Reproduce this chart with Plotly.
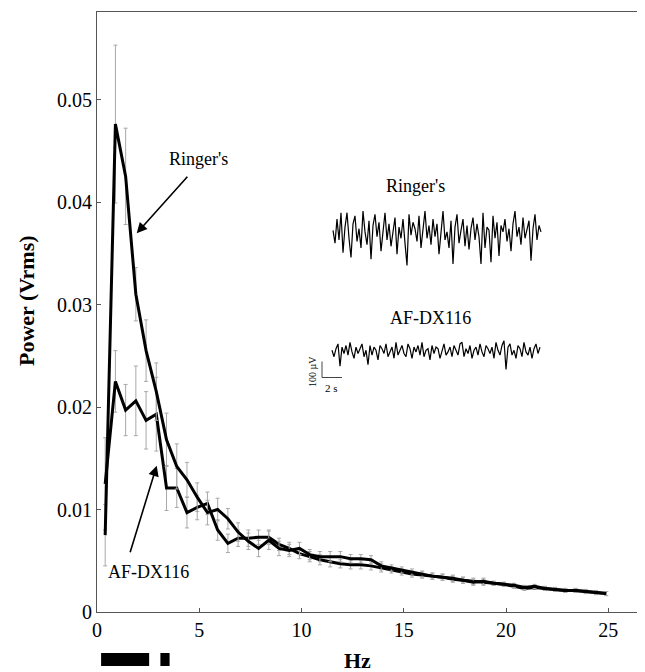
import plotly.graph_objects as go

# ---------------- data ----------------
freq_hz = [0.4, 0.9, 1.4, 1.9, 2.4, 2.9, 3.4, 3.9, 4.4, 4.9,
           5.4, 5.9, 6.4, 6.9, 7.4, 7.9, 8.4, 8.9, 9.4, 9.9,
           10.4, 10.9, 11.4, 11.9, 12.4, 12.9, 13.4, 13.9, 14.4, 14.9,
           15.4, 15.9, 16.4, 16.9, 17.4, 17.9, 18.4, 18.9, 19.4, 19.9,
           20.4, 20.9, 21.4, 21.9, 22.4, 22.9, 23.4, 23.9, 24.4, 24.9]

ringers_power = [0.0075, 0.0476, 0.0425, 0.0310, 0.0255, 0.0215, 0.0168, 0.0142, 0.0129, 0.0112,
                 0.0097, 0.0100, 0.0091, 0.0078, 0.0069, 0.0062, 0.0070, 0.0062, 0.0060, 0.0062,
                 0.0056, 0.0054, 0.0054, 0.0054, 0.0052, 0.0052, 0.0051, 0.0045, 0.0043, 0.0041,
                 0.0039, 0.0037, 0.0035, 0.0034, 0.0033, 0.0031, 0.0029, 0.0030, 0.0028, 0.0027,
                 0.0026, 0.0024, 0.0025, 0.0023, 0.0022, 0.0021, 0.0021, 0.0020, 0.0019, 0.0018]
ringers_err = [0.0030, 0.0077, 0.0047, 0.0026, 0.0030, 0.0028, 0.0026, 0.0022, 0.0017, 0.0014,
               0.0012, 0.0011, 0.0010, 0.0009, 0.0008, 0.0008, 0.0009, 0.0007, 0.0006, 0.0006,
               0.0005, 0.0005, 0.0005, 0.0005, 0.0004, 0.0004, 0.0004, 0.0004, 0.0003, 0.0003,
               0.0003, 0.0003, 0.0003, 0.0003, 0.0003, 0.0003, 0.0003, 0.0003, 0.0002, 0.0002,
               0.0002, 0.0002, 0.0002, 0.0002, 0.0002, 0.0002, 0.0002, 0.0002, 0.0002, 0.0002]

afdx_power = [0.0125, 0.0225, 0.0197, 0.0206, 0.0187, 0.0193, 0.0121, 0.0121, 0.0097, 0.0102,
              0.0106, 0.0080, 0.0067, 0.0072, 0.0072, 0.0073, 0.0073, 0.0066, 0.0062, 0.0057,
              0.0054, 0.0051, 0.0049, 0.0047, 0.0046, 0.0046, 0.0045, 0.0043, 0.0041, 0.0039,
              0.0037, 0.0036, 0.0035, 0.0034, 0.0032, 0.0031, 0.0030, 0.0029, 0.0028, 0.0027,
              0.0025, 0.0023, 0.0024, 0.0023, 0.0022, 0.0021, 0.0021, 0.0020, 0.0019, 0.0018]
afdx_err = [0.0045, 0.0030, 0.0025, 0.0034, 0.0028, 0.0036, 0.0022, 0.0019, 0.0015, 0.0012,
            0.0011, 0.0010, 0.0009, 0.0008, 0.0008, 0.0007, 0.0007, 0.0006, 0.0006, 0.0005,
            0.0005, 0.0005, 0.0005, 0.0004, 0.0004, 0.0004, 0.0004, 0.0004, 0.0003, 0.0003,
            0.0003, 0.0003, 0.0003, 0.0003, 0.0003, 0.0003, 0.0003, 0.0003, 0.0002, 0.0002,
            0.0002, 0.0002, 0.0002, 0.0002, 0.0002, 0.0002, 0.0002, 0.0002, 0.0002, 0.0002]

# inset EEG samples (microvolts), sampled every 0.2 s
eeg_ringers_uv = [20, -60, 90, -40, 130, -120, 40, 130, -30, -150,
                  60, 110, -50, 30, -90, 140, 10, -70, 80, -160,
                  50, 120, -20, 70, -110, 30, 130, -40, 60, -80,
                  20, 100, -130, 40, -30, 90, -60, -200, 120, -10,
                  70, 30, -50, 110, -90, 20, 140, -30, 50, -70,
                  90, -20, 60, -130, 30, 140, -40, 10, -90, 80,
                  -190, 40, 120, -60, 20, 90, -80, 50, -100, 30,
                  100, -40, 60, -20, -190, 130, -90, 40, 20, -180,
                  110, -30, 70, -140, 50, 10, 90, -50, 30, -110,
                  60, 140, -20, 40, -70, 100, -30, 20, 80, -170,
                  30, 120, -40, 50, 10]
eeg_afdx_uv = [10, -30, 20, 50, -90, 30, -10, 40, -20, 60,
               0, -40, 30, -10, 20, 50, -30, 10, -80, 40,
               -20, 30, 10, -50, 40, 20, -10, 50, -30, 0,
               30, -40, 60, -20, 10, 40, -10, -30, 50, 20,
               -40, 30, 0, 40, -20, 60, -30, 10, 20, -50,
               40, -10, 30, 20, -40, 10, 50, -20, 0, 30,
               -30, 40, 10, -20, 50, 60, -30, 20, -10, 40,
               -40, 10, 30, -20, 50, 0, -30, 40, 20, -10,
               30, -40, 60, 10, -20, 40, 70, -110, 30, 50,
               -20, 10, -40, 40, 20, -30, 60, 0, -20, 30,
               -40, 20, 50, -10, 30]

x_ticks = [0, 5, 10, 15, 20, 25]
y_ticks = [0, 0.01, 0.02, 0.03, 0.04, 0.05]
y_tick_text = ["0", "0.01", "0.02", "0.03", "0.04", "0.05"]

# ---------------- layout constants ----------------
# page-body margin of 8 px is compensated so the plot area sits at
# page x 97..640, page y 12..612
OFF = 8
W, H = 645 - OFF, 672 - OFF
ML, MR, MT, MB = 97 - OFF, 5, 12 - OFF, 60
PL, PR, PT, PB = 97, 640, 12, 612  # plot area in page pixels
PW, PH = PR - PL, PB - PT
SERIF = "Liberation Serif, Times New Roman, serif"
PX_PER_HZ = 20.45
PX_PER_UNIT = 10250.0


def px_x(px):
    return (px - PL) / PW


def px_y(py):
    return (PB - py) / PH


RINGER_OFFSET_UV = 900
AFDX_OFFSET_UV = 160

fig = go.Figure()

err_style = dict(type="data", color="#a8a8a8", thickness=1, width=2)

fig.add_trace(go.Scatter(x=freq_hz, y=afdx_power, mode="lines",
                         line=dict(color="black", width=3),
                         error_y=dict(array=afdx_err, **err_style),
                         name="AF-DX116", showlegend=False))
fig.add_trace(go.Scatter(x=freq_hz, y=ringers_power, mode="lines",
                         line=dict(color="black", width=3),
                         error_y=dict(array=ringers_err, **err_style),
                         name="Ringer's", showlegend=False))

# inset traces
fig.add_trace(go.Scatter(y=[v + RINGER_OFFSET_UV for v in eeg_ringers_uv], x0=1.1, dx=0.2,
                         mode="lines", line=dict(color="black", width=1.2),
                         xaxis="x2", yaxis="y2", showlegend=False, hoverinfo="skip"))
fig.add_trace(go.Scatter(y=[v + AFDX_OFFSET_UV for v in eeg_afdx_uv], x0=1.0, dx=0.2,
                         mode="lines", line=dict(color="black", width=1.2),
                         xaxis="x2", yaxis="y2", showlegend=False, hoverinfo="skip"))

axis_common = dict(showline=True, linecolor="#555", linewidth=1, mirror=True,
                   ticks="inside", ticklen=4, tickcolor="#555", showgrid=False,
                   zeroline=False, tickfont=dict(family=SERIF, size=20, color="black"))

# inset axes mapping: 10 px per second, 16 px per 100 uV
inset_x_dom = [px_x(311), px_x(545)]
inset_t_range = [(311 - 322) / 10, (545 - 322) / 10]
inset_y_dom = [px_y(395), px_y(200)]
inset_uv_range = [(377.5 - 395) * 6.25, (377.5 - 200) * 6.25]

fig.update_layout(
    width=W, height=H,
    margin=dict(l=ML, r=MR, t=MT, b=MB),
    paper_bgcolor="white", plot_bgcolor="white",
    xaxis=dict(range=[0, PW / PX_PER_HZ], tickvals=x_ticks, **axis_common),
    yaxis=dict(range=[0, PH / PX_PER_UNIT], tickvals=y_ticks, ticktext=y_tick_text, **axis_common),
    xaxis2=dict(domain=inset_x_dom, range=inset_t_range, visible=False, anchor="y2"),
    yaxis2=dict(domain=inset_y_dom, range=inset_uv_range, visible=False, anchor="x2"),
    showlegend=False,
)

# scale bar (2 s, 100 uV)
fig.add_shape(type="line", xref="x2", yref="y2", x0=0, x1=0, y0=0, y1=100,
              line=dict(color="#444", width=1))
fig.add_shape(type="line", xref="x2", yref="y2", x0=0, x1=2, y0=0, y1=0,
              line=dict(color="#444", width=1))

# frequency band bars under the axis
for x0, x1 in [(0.2, 2.55), (3.1, 3.55)]:
    fig.add_shape(type="rect", xref="x", yref="paper", x0=x0, x1=x1,
                  y0=px_y(666), y1=px_y(653), fillcolor="black", line=dict(width=0))


def label(text, px, py, size, angle=0, bold=False):
    t = f"<b>{text}</b>" if bold else text
    return dict(text=t, xref="paper", yref="paper", x=px_x(px), y=px_y(py),
                xanchor="center", yanchor="middle", textangle=angle, showarrow=False,
                font=dict(family=SERIF, size=size, color="black"))


ann = [
    label("Hz", 357, 661, 22, bold=True),
    label("Power (Vrms)", 26, 301, 22, angle=-90, bold=True),
    label("Ringer's", 198, 159, 18),
    label("AF-DX116", 148, 572, 18),
    label("Ringer's", 415, 186, 18),
    label("AF-DX116", 430, 318, 18),
    label("2 s", 331, 388, 11),
    label("100 µV", 312, 372, 10, angle=-90),
]
# arrows pointing to the curves
ann.append(dict(text="", x=(136.7 - PL) / PX_PER_HZ, y=(PB - 233.3) / PX_PER_UNIT,
                xref="x", yref="y", ax=52, ay=-58, showarrow=True, arrowhead=2,
                arrowsize=1.3, arrowwidth=1.6, arrowcolor="black"))
ann.append(dict(text="", x=(156.7 - PL) / PX_PER_HZ, y=(PB - 465.7) / PX_PER_UNIT,
                xref="x", yref="y", ax=-27, ay=88, showarrow=True, arrowhead=2,
                arrowsize=1.3, arrowwidth=1.6, arrowcolor="black"))

fig.update_layout(annotations=ann)

fig.write_html("out.html")
